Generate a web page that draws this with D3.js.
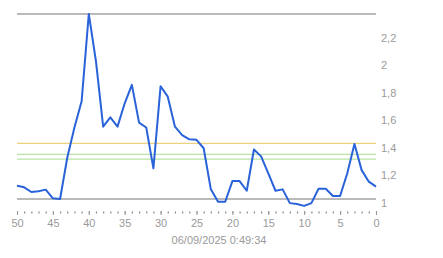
<!DOCTYPE html>
<meta charset='utf-8'>
<style>
body { margin: 0; background: #fff; }
svg { display: block; }
text { font-family: Arial, 'Liberation Sans', sans-serif; font-size: 11px; fill: #9a9a9a; }
.axis path.domain { display: none; }
.axis line { stroke: #999; }
.minor line { stroke: #888; stroke-width: 1.2px; }
path.series { fill: none; stroke: #2962d9; stroke-width: 2px; stroke-linejoin: round; }
</style>
<svg id='chart' width='443' height='258'></svg>
<script src="https://cdn.jsdelivr.net/npm/d3@7"></script>
<script>

// seconds ago, left to right
const ago = d3.range(50, -1, -1);
const values = [
  1.097, 1.085, 1.051, 1.056, 1.068, 1.005, 1.0, 1.30, 1.52, 1.71,
  2.345, 2.00, 1.526, 1.594, 1.526, 1.696, 1.83, 1.555, 1.52, 1.223,
  1.82, 1.744, 1.526, 1.465, 1.434, 1.43, 1.369, 1.07, 0.98, 0.98,
  1.13, 1.13, 1.06, 1.36, 1.31, 1.187, 1.06, 1.07, 0.97, 0.964,
  0.95, 0.97, 1.075, 1.075, 1.022, 1.022, 1.187, 1.40, 1.21, 1.126,
  1.09
];
const yTicks = [1, 1.2, 1.4, 1.6, 1.8, 2, 2.2];
const xTicks = [50, 45, 40, 35, 30, 25, 20, 15, 10, 5, 0];
const refLines = [
  { v: 2.345, color: '#777' },
  { v: 1.0, color: '#777' },
  { v: 1.405, color: '#edd27e' },
  { v: 1.325, color: '#b9e3a6' },
  { v: 1.29, color: '#b9e3a6' }
];
const stamp = '06/09/2025 0:49:34';

const svg = d3.select('#chart');
const x = d3.scaleLinear().domain([50, 0]).range([17, 376]);
const y = d3.scaleLinear().domain([1, 2.345]).range([199, 14]);
const fmt = d3.formatLocale({ decimal: ',', thousands: '.', grouping: [3], currency: ['', ''] }).format('~g');

svg.append('g').selectAll('line')
  .data(refLines)
  .join('line')
  .attr('x1', x(50)).attr('x2', x(0))
  .attr('y1', d => y(d.v)).attr('y2', d => y(d.v))
  .attr('stroke', d => d.color)
  .attr('stroke-width', 1.2);

svg.append('g').selectAll('text')
  .data(yTicks)
  .join('text')
  .attr('x', 381)
  .attr('y', d => y(d) + 8)
  .text(fmt);

// minor ticks every second
svg.append('g')
  .attr('class', 'axis minor')
  .attr('transform', 'translate(0,211.5)')
  .call(d3.axisBottom(x).tickValues(ago).tickSize(2).tickFormat(''));

svg.append('g')
  .attr('class', 'axis')
  .attr('transform', 'translate(0,211)')
  .call(d3.axisBottom(x).tickValues(xTicks).tickSize(4).tickPadding(4))
  .call(g => g.selectAll('text').attr('font-size', 11).attr('fill', '#9a9a9a')
    .style('font-family', 'Arial, Liberation Sans, sans-serif'));

svg.append('path')
  .datum(ago.map((a, i) => [a, values[i]]))
  .attr('class', 'series')
  .attr('d', d3.line().x(d => x(d[0])).y(d => y(d[1])));

svg.append('text')
  .attr('x', 219)
  .attr('y', 244)
  .attr('text-anchor', 'middle')
  .text(stamp);

</script>
